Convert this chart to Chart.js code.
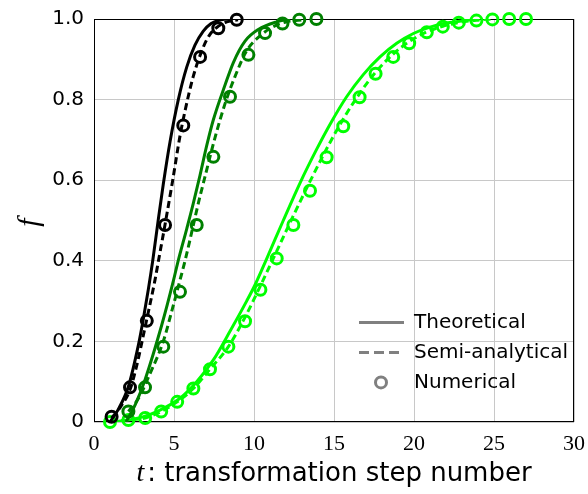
<!DOCTYPE html>
<html lang="en">
<head>
<meta charset="UTF-8">
<script src="https://cdn.jsdelivr.net/npm/chart.js@4.4.0/dist/chart.umd.min.js"></script>
<title>Transformation fraction</title>
<style>
  html, body { margin: 0; padding: 0; background: #fff; }
</style>
</head>
<body>
<canvas id="chart" width="588" height="494"></canvas>
<script>
// x ticks / y ticks
const xTicks = [0, 5, 10, 15, 20, 25, 30];
const yTicks = [0, 0.2, 0.4, 0.6, 0.8, 1.0];
const legendLabels = ['Theoretical', 'Semi-analytical', 'Numerical'];

// black series
const tBlackNum = [1.1, 2.25, 3.3, 4.44, 5.58, 6.63, 7.77, 8.92];
const fBlackNum = [0.013, 0.086, 0.251, 0.489, 0.736, 0.906, 0.977, 0.998];
const tBlackTheo = [1.0, 1.5, 2.15, 2.77, 3.08, 3.4, 3.67, 4.0, 4.33, 4.75, 5.27, 5.79, 6.31, 6.83, 7.3, 7.8, 8.3];
const fBlackTheo = [0.0, 0.03, 0.088, 0.19, 0.255, 0.33, 0.4, 0.497, 0.59, 0.695, 0.8, 0.88, 0.935, 0.97, 0.988, 0.997, 1.0];
const tBlackSemi = [1.1, 1.7, 2.25, 2.67, 3.19, 3.81, 4.02, 4.44, 4.92, 5.375, 5.69, 6.2, 6.83, 7.25, 7.67, 8.3, 9.0];
const fBlackSemi = [0.01, 0.04, 0.08, 0.14, 0.235, 0.352, 0.398, 0.49, 0.6, 0.71, 0.772, 0.857, 0.93, 0.962, 0.979, 0.993, 0.998];

// dark green series
const tDarkNum = [2.15, 3.19, 4.33, 5.375, 6.42, 7.46, 8.5, 9.65, 10.69, 11.78, 12.83, 13.9];
const fDarkNum = [0.026, 0.086, 0.187, 0.323, 0.489, 0.658, 0.807, 0.911, 0.965, 0.989, 0.998, 1.0];
const tDarkTheo = [2.0, 2.6, 3.19, 4.23, 4.96, 5.23, 5.8, 6.21, 6.625, 7.04, 7.46, 8.19, 8.71, 9.44, 10.27, 11.42, 12.25];
const fDarkTheo = [0.0, 0.045, 0.105, 0.24, 0.35, 0.395, 0.48, 0.543, 0.612, 0.685, 0.75, 0.836, 0.892, 0.945, 0.974, 0.993, 1.0];
const tDarkSemi = [2.15, 2.8, 3.5, 4.33, 4.96, 5.375, 5.69, 6.625, 6.83, 7.56, 8.19, 8.81, 9.54, 10.375, 11.2, 12.04, 13.1];
const fDarkSemi = [0.026, 0.06, 0.12, 0.2, 0.29, 0.352, 0.40, 0.56, 0.592, 0.705, 0.79, 0.857, 0.921, 0.958, 0.981, 0.993, 0.998];

// light green series
const tLightNum = [1.0, 2.15, 3.2, 4.2, 5.2, 6.21, 7.25, 8.4, 9.44, 10.4, 11.42, 12.46, 13.5, 14.54, 15.58, 16.6, 17.6, 18.7, 19.7, 20.8, 21.8, 22.8, 23.9, 24.9, 25.95, 27.0];
const fLightNum = [0.0, 0.005, 0.01, 0.026, 0.05, 0.083, 0.131, 0.187, 0.25, 0.328, 0.406, 0.489, 0.574, 0.657, 0.734, 0.806, 0.864, 0.906, 0.94, 0.967, 0.981, 0.991, 0.996, 0.999, 1.0, 1.0];
const tLightTheo = [1.0, 2.0, 3.0, 4.0, 5.375, 6.42, 7.46, 8.5, 9.54, 10.06, 10.79, 11.83, 12.875, 13.92, 14.8, 15.79, 16.83, 17.875, 18.92, 19.96, 21.0, 22.04, 23.08, 24.1];
const fLightTheo = [0.0, 0.004, 0.012, 0.027, 0.059, 0.1, 0.154, 0.225, 0.3, 0.34, 0.405, 0.5, 0.593, 0.677, 0.742, 0.807, 0.862, 0.906, 0.94, 0.964, 0.98, 0.99, 0.996, 1.0];
const tLightSemi = [1.0, 2.15, 3.2, 4.2, 5.2, 6.21, 7.25, 8.4, 9.44, 10.4, 11.42, 12.46, 13.5, 14.54, 15.58, 16.6, 17.6, 18.7, 19.7, 20.8, 21.8, 22.8, 23.9, 24.9];
const fLightSemi = [0.0, 0.005, 0.01, 0.026, 0.05, 0.083, 0.131, 0.187, 0.26, 0.338, 0.424, 0.512, 0.597, 0.678, 0.752, 0.815, 0.868, 0.913, 0.944, 0.968, 0.982, 0.991, 0.997, 1.0];

const BLACK = '#000000';
const DARK = '#008000';
const LIGHT = '#00ff00';
const GRAY = '#808080';

function pts(t, f) {
  return t.map((x, i) => ({ x: x, y: f[i] }));
}
function lineSet(t, f, color, dashed) {
  return {
    data: pts(t, f),
    showLine: true,
    borderColor: color,
    borderWidth: 3,
    borderDash: dashed ? [7, 4] : [],
    pointRadius: 0,
    cubicInterpolationMode: 'monotone',
    fill: false
  };
}
function markSet(t, f, color) {
  return {
    data: pts(t, f),
    showLine: false,
    pointStyle: 'circle',
    pointRadius: 5.5,
    pointBorderWidth: 3,
    pointBorderColor: color,
    pointBackgroundColor: 'rgba(0,0,0,0)',
    clip: false
  };
}

// frame, legend and axis titles
const extras = {
  id: 'extras',
  beforeDatasetsDraw(chart) {
    const c = chart.ctx, a = chart.chartArea;
    c.save();
    c.strokeStyle = '#000';
    c.lineWidth = 1;
    c.strokeRect(a.left + 0.5, a.top + 0.5, a.right - a.left - 1, a.bottom - a.top - 1);
    c.restore();
  },
  afterDraw(chart) {
    const c = chart.ctx, a = chart.chartArea;
    c.save();
    // legend
    const lx = a.right - 215, ly = chart.scales.y.getPixelForValue(0.2);
    const rows = [ly - 19, ly + 11, ly + 41];
    c.strokeStyle = GRAY;
    c.lineWidth = 3;
    c.beginPath(); c.moveTo(lx, rows[0]); c.lineTo(lx + 45, rows[0]); c.stroke();
    c.setLineDash([10, 5]);
    c.beginPath(); c.moveTo(lx, rows[1]); c.lineTo(lx + 42, rows[1]); c.stroke();
    c.setLineDash([]);
    c.beginPath(); c.arc(lx + 22, rows[2], 5.5, 0, Math.PI * 2); c.stroke();
    c.fillStyle = '#000';
    c.font = '20px "DejaVu Sans"';
    c.textBaseline = 'middle';
    c.textAlign = 'left';
    legendLabels.forEach((s, i) => c.fillText(s, lx + 55, rows[i]));

    // x title
    c.textBaseline = 'alphabetic';
    c.font = 'italic 28px "Liberation Serif"';
    const wT = c.measureText('t').width;
    c.font = '26px "DejaVu Sans"';
    const rest = ': transformation step number';
    const wR = c.measureText(rest).width;
    const x0 = (a.left + a.right) / 2 - (wT + 3 + wR) / 2;
    c.font = 'italic 28px "Liberation Serif"';
    c.fillText('t', x0, 481);
    c.font = '26px "DejaVu Sans"';
    c.fillText(rest, x0 + wT + 3, 481);

    // y title
    c.translate(30, (a.top + a.bottom) / 2 + 2);
    c.rotate(-Math.PI / 2);
    c.font = 'italic 30px "Liberation Serif"';
    c.textAlign = 'center';
    c.textBaseline = 'middle';
    c.fillText('f', 0, 0);
    c.restore();
  }
};

new Chart(document.getElementById('chart').getContext('2d'), {
  type: 'scatter',
  data: {
    datasets: [
      markSet(tBlackNum, fBlackNum, BLACK),
      lineSet(tBlackTheo, fBlackTheo, BLACK, false),
      lineSet(tBlackSemi, fBlackSemi, BLACK, true),
      markSet(tDarkNum, fDarkNum, DARK),
      lineSet(tDarkTheo, fDarkTheo, DARK, false),
      lineSet(tDarkSemi, fDarkSemi, DARK, true),
      markSet(tLightNum, fLightNum, LIGHT),
      lineSet(tLightTheo, fLightTheo, LIGHT, false),
      lineSet(tLightSemi, fLightSemi, LIGHT, true)
    ]
  },
  options: {
    responsive: false,
    animation: false,
    layout: { padding: { top: 19, right: 14, left: 0, bottom: 0 } },
    plugins: { legend: { display: false }, tooltip: { enabled: false } },
    scales: {
      x: {
        type: 'linear',
        min: xTicks[0],
        max: xTicks[xTicks.length - 1],
        afterBuildTicks(s) { s.ticks = xTicks.map(v => ({ value: v })); },
        ticks: { color: '#000', padding: 9, font: { family: '"Liberation Serif"', size: 22 } },
        grid: { color: '#c8c8c8', drawTicks: false },
        border: { display: false },
        afterFit(s) { s.height = 72; s.paddingLeft = 0; s.paddingRight = 0; }
      },
      y: {
        type: 'linear',
        min: yTicks[0],
        max: yTicks[yTicks.length - 1],
        afterBuildTicks(s) { s.ticks = yTicks.map(v => ({ value: v })); },
        ticks: {
          color: '#000',
          padding: 10,
          font: { family: '"DejaVu Sans"', size: 20 },
          callback: v => (v === 0 ? '0' : v.toFixed(1))
        },
        grid: { color: '#c8c8c8', drawTicks: false },
        border: { display: false },
        afterFit(s) { s.width = 94; s.paddingTop = 0; s.paddingBottom = 0; }
      }
    }
  },
  plugins: [extras]
});
</script>
</body>
</html>
